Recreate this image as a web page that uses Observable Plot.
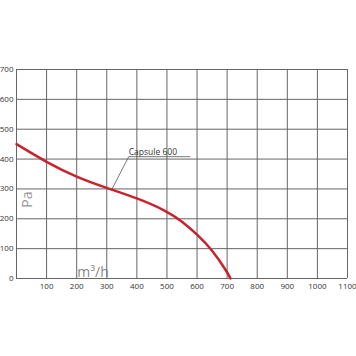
<!DOCTYPE html>
<html>
<head>
<meta charset="utf-8">
<script src="https://cdn.jsdelivr.net/npm/d3@7"></script>
<script src="https://cdn.jsdelivr.net/npm/@observablehq/plot@0.6"></script>
<style>
  html, body { margin: 0; padding: 0; background: #fff; }
</style>
</head>
<body>
<div id="chart"></div>
<script>
const flow = [0, 100, 200, 300, 400, 500, 550, 600, 650, 700, 711];
const pressure = [450, 389, 339, 303, 270, 226, 192, 148, 97, 22, 0];
const xTicks = [0, 100, 200, 300, 400, 500, 600, 700, 800, 900, 1000, 1100];
const xTickLabels = [100, 200, 300, 400, 500, 600, 700, 800, 900, 1000, 1100];
const yTicks = [0, 100, 200, 300, 400, 500, 600, 700];
const seriesName = "Capsule 600";
const yLabel = "Pa";
const xLabel = "m³/h";

const data = flow.map((f, i) => ({ flow: f, pressure: pressure[i] }));
const leader = [[316, 297], [373, 408], [576, 408]];

const chart = Plot.plot({
  width: 356,
  height: 356,
  marginLeft: 16,
  marginRight: 9,
  marginTop: 69,
  marginBottom: 78,
  style: { fontFamily: "'Open Sans', sans-serif", fontSize: "8px", color: "#333", background: "#fff" },
  x: { domain: [0, 1100], label: null },
  y: { domain: [0, 700], label: null },
  marks: [
    Plot.gridX(xTicks, { stroke: "#666", strokeOpacity: 1, strokeWidth: 1 }),
    Plot.gridY(yTicks, { stroke: "#666", strokeOpacity: 1, strokeWidth: 1 }),
    Plot.axisX(xTickLabels, { tickSize: 0, tickPadding: 5, fontSize: 8, fill: "#333", tickFormat: d => String(d) }),
    Plot.axisY(yTicks, { tickSize: 0, tickPadding: 3, fontSize: 8, fill: "#333", tickFormat: d => String(d) }),
    Plot.text([yLabel], { x: 36, y: 264, text: d => d, rotate: -90, fontSize: 14, fill: "#999" }),
    Plot.text([xLabel], { x: 202, y: 6, text: d => d, textAnchor: "start", lineAnchor: "bottom", fontSize: 14, fill: "#888" }),
    Plot.line(leader, { stroke: "#555", strokeWidth: 0.8 }),
    Plot.text([seriesName], { x: 373, y: 408, text: d => d, textAnchor: "start", lineAnchor: "bottom", dy: -2, fontSize: 8.5, fill: "#333" }),
    Plot.line(data, { x: "flow", y: "pressure", curve: "basis", stroke: "#c8232c", strokeWidth: 2.5 })
  ]
});
document.getElementById("chart").appendChild(chart);
</script>
</body>
</html>
